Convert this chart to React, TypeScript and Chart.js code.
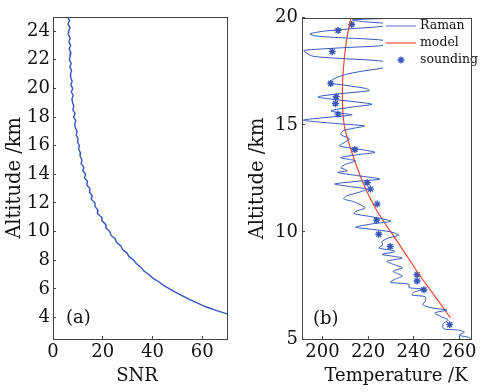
import React, { useEffect, useRef } from "react";
import { Chart, registerables } from "chart.js";
Chart.register(...registerables);

// ---------- Panel (a): SNR profile ----------
const snrAltitude = [
  25.0, 24.75, 24.5, 24.25, 24.0, 23.75, 23.5, 23.25, 23.0, 22.75, 22.5, 22.25, 22.0, 21.75, 21.5, 21.25,
  21.0, 20.75, 20.5, 20.25, 20.0, 19.75, 19.5, 19.25, 19.0, 18.75, 18.5, 18.25, 18.0, 17.75, 17.5, 17.25,
  17.0, 16.75, 16.5, 16.25, 16.0, 15.75, 15.5, 15.25, 15.0, 14.75, 14.5, 14.25, 14.0, 13.75, 13.5, 13.25,
  13.0, 12.75, 12.5, 12.25, 12.0, 11.75, 11.5, 11.25, 11.0, 10.75, 10.5, 10.25, 10.0, 9.75, 9.5, 9.25,
  9.0, 8.75, 8.5, 8.25, 8.0, 7.75, 7.5, 7.25, 7.0, 6.75, 6.5, 6.25, 6.0, 5.75, 5.5, 5.25,
  5.0, 4.75, 4.5, 4.25, 4.0,
];
const snrValues = [
  5.8, 6.7, 6.0, 6.8, 6.3, 6.2, 6.9, 6.4, 7.1, 6.5, 7.2, 6.9, 6.6, 7.3, 6.8, 7.5,
  7.0, 7.1, 7.7, 7.2, 7.9, 7.4, 8.1, 7.6, 7.9, 8.4, 8.0, 8.9, 8.3, 9.2, 8.7, 9.0,
  9.7, 9.3, 10.1, 9.9, 10.6, 10.3, 11.1, 10.9, 11.7, 11.3, 12.4, 12.0, 13.1, 12.7, 13.9, 13.6,
  14.9, 14.7, 15.8, 15.4, 16.9, 16.9, 18.1, 17.9, 19.6, 19.7, 21.2, 21.3, 22.9, 23.3, 25.0, 25.6,
  27.3, 28.0, 29.8, 30.6, 32.5, 33.6, 35.4, 36.6, 38.5, 40.2, 42.5, 44.5, 46.9, 49.4, 52.3, 55.0,
  58.1, 61.5, 65.6, 70.0, 75.0,
];
const snrTicks = [0, 20, 40, 60];
const altTicksA = [4, 6, 8, 10, 12, 14, 16, 18, 20, 22, 24];

// ---------- Panel (b): temperature profiles ----------
const ramanAltitude = [
  20.05, 19.98, 19.95, 19.9, 19.82, 19.72, 19.6, 19.5, 19.38, 19.25, 19.15, 19.06, 18.98, 18.85, 18.7, 18.62,
  18.54, 18.47, 18.35, 18.2, 18.1, 18.0, 17.85, 17.65, 17.5, 17.35, 17.15, 16.97, 16.85, 16.7, 16.6, 16.48,
  16.36, 16.3, 16.2, 16.08, 15.96, 15.82, 15.66, 15.55, 15.47, 15.36, 15.22, 15.08, 14.95, 14.85, 14.72, 14.55,
  14.35, 14.2, 14.02, 13.88, 13.72, 13.6, 13.47, 13.32, 13.15, 13.0, 12.86, 12.78, 12.62, 12.47, 12.36, 12.24,
  12.12, 12.0, 11.85, 11.7, 11.55, 11.4, 11.12, 10.98, 10.86, 10.7, 10.5, 10.38, 10.22, 10.12, 10.0, 9.85,
  9.72, 9.55, 9.4, 9.25, 9.15, 9.08, 8.95, 8.88, 8.78, 8.63, 8.45, 8.32, 8.17, 8.05, 7.94, 7.8,
  7.65, 7.56, 7.4, 7.33, 7.18, 7.05, 6.98, 6.79, 6.6, 6.45, 6.35, 6.22, 6.05, 5.88, 5.72, 5.48,
  5.42, 5.32, 5.18, 5.08, 4.95,
];
const ramanTemperature = [
  240, 232, 222, 213, 218, 229, 226, 214, 201, 194.5, 197, 210, 224, 232, 226, 212,
  199, 191.8, 193, 196, 208, 224, 232, 226, 217, 210, 205, 203, 210, 219, 220.5, 210,
  200, 198, 204, 214, 221.7, 212, 203.7, 208, 213, 203, 191.6, 204, 218.5, 214, 209, 208,
  211.8, 210, 207.4, 215, 223, 215, 208, 214.4, 210, 208.1, 211, 206.7, 216, 225.2, 215, 205.3,
  212, 219.5, 216, 211, 209.2, 214, 218.8, 215, 213.8, 222, 230, 222, 214.5, 222, 230, 233.5,
  229, 226, 226.5, 224.7, 230, 231.8, 226.1, 230, 235, 228.3, 232, 235.1, 230.9, 233, 235.1, 232,
  229.8, 237.9, 238, 244, 240, 239.4, 245, 245.2, 244, 248.2, 254.6, 249.3, 252, 255.2, 253, 253.1,
  259.4, 262.3, 260, 264, 266,
];
const modelAltitude = [20, 19, 18, 17, 16, 15, 14, 13, 12, 11, 10, 9, 8, 7, 6];
const modelTemperature = [212.5, 210.6, 209.5, 208.8, 208.8, 209.5, 212.0, 215.2, 219.0, 223.8, 230.0, 236.3, 242.5, 249.3, 256.1];
const soundingAltitude = [19.69, 19.41, 18.42, 16.93, 16.31, 16.0, 15.5, 13.85, 12.3, 12.0, 11.3, 10.55, 9.89, 9.32, 8.0, 7.71, 7.3, 5.67];
const soundingTemperature = [212.8, 206.8, 204.3, 203.6, 206.0, 205.7, 206.8, 214.2, 219.6, 221.0, 224.0, 223.7, 224.7, 229.7, 241.5, 241.5, 244.5, 255.8];
const tempTicks = [200, 220, 240, 260];
const altTicksB = [5, 10, 15, 20];
const legendLabels = ["Raman", "model", "sounding"];

// ---------- styles ----------
const FONT = "'DejaVu Serif', serif";
const BLUE = "#3557bd";
const RED = "#f04a2e";
const AXIS = "#444";

function drawStar(ctx: CanvasRenderingContext2D, x: number, y: number, r: number) {
  ctx.beginPath();
  for (let k = 0; k < 4; k++) {
    const ang = (k * Math.PI) / 4;
    ctx.moveTo(x - Math.cos(ang) * r, y - Math.sin(ang) * r);
    ctx.lineTo(x + Math.cos(ang) * r, y + Math.sin(ang) * r);
  }
  ctx.stroke();
}

const panelPlugin = {
  id: "panel",
  afterDatasetsDraw(chart: any, _args: any, o: any) {
    const { ctx, chartArea: a } = chart;
    ctx.save();
    if (o.legend) {
      ctx.fillStyle = "#fff";
      ctx.fillRect(o.legendLeft, o.legendTop, a.right - o.legendLeft, o.legendBottom - o.legendTop);
      const colors = [BLUE, RED, BLUE];
      legendLabels.forEach((lab, i) => {
        const y = o.legendY0 + i * o.legendDy;
        ctx.strokeStyle = colors[i];
        if (i < 2) {
          ctx.lineWidth = 1.2;
          ctx.globalAlpha = i === 0 ? 0.7 : 1;
          ctx.beginPath();
          ctx.moveTo(o.legendLineX0, y);
          ctx.lineTo(o.legendLineX1, y);
          ctx.stroke();
          ctx.globalAlpha = 1;
        } else {
          ctx.lineWidth = 1.4;
          drawStar(ctx, (o.legendLineX0 + o.legendLineX1) / 2, y, 3.5);
        }
        ctx.fillStyle = "#111";
        ctx.font = `12.5px ${FONT}`;
        ctx.textAlign = "left";
        ctx.textBaseline = "middle";
        ctx.fillText(lab, o.legendTextX, y);
      });
    }
    // frame
    ctx.strokeStyle = AXIS;
    ctx.lineWidth = 1;
    ctx.strokeRect(Math.round(a.left) + 0.5, Math.round(a.top) + 0.5, Math.round(a.right - a.left), Math.round(a.bottom - a.top));
    // panel label
    ctx.fillStyle = "#111";
    ctx.font = `18px ${FONT}`;
    ctx.textAlign = "left";
    ctx.textBaseline = "middle";
    ctx.fillText(o.label, o.labelX, o.labelY);
    // x title
    ctx.textAlign = "center";
    ctx.fillText(o.xTitle, o.xTitleX, o.xTitleY);
    ctx.restore();
  },
};

function axisX(min: number, max: number, ticks: number[]) {
  return {
    type: "linear",
    min,
    max,
    afterBuildTicks: (s: any) => {
      s.ticks = ticks.map((v) => ({ value: v }));
    },
    afterFit: (s: any) => {
      s.height = 53;
    },
    grid: { drawOnChartArea: false, drawTicks: true, tickLength: -3, color: AXIS },
    border: { display: false },
    ticks: { color: "#111", font: { family: FONT, size: 18 }, padding: 6, maxRotation: 0, autoSkip: false },
  };
}
function axisY(min: number, max: number, ticks: number[], width: number, pad: number, titlePad: number) {
  return {
    type: "linear",
    min,
    max,
    afterBuildTicks: (s: any) => {
      s.ticks = ticks.map((v) => ({ value: v }));
    },
    afterFit: (s: any) => {
      s.width = width;
    },
    grid: { drawOnChartArea: false, drawTicks: true, tickLength: -3, color: AXIS },
    border: { display: false },
    ticks: { color: "#111", font: { family: FONT, size: 18 }, padding: pad, autoSkip: false },
    title: { display: true, text: "Altitude /km", color: "#111", font: { family: FONT, size: 19.5 }, padding: { top: titlePad, bottom: 0 } },
  };
}

function buildA(): any {
  return {
    type: "scatter",
    data: {
      datasets: [
        {
          data: snrAltitude.map((alt, i) => ({ x: snrValues[i], y: alt })),
          showLine: true,
          borderColor: BLUE,
          borderWidth: 1.4,
          pointRadius: 0,
          tension: 0,
        },
      ],
    },
    options: {
      responsive: false,
      animation: false,
      layout: { padding: { left: 0, right: 14, top: 13, bottom: 0 } },
      plugins: {
        legend: { display: false },
        tooltip: { enabled: false },
        panel: { label: "(a)", labelX: 66, labelY: 318, xTitle: "SNR", xTitleX: 137, xTitleY: 376, legend: false },
      },
      scales: {
        x: axisX(0, 70, snrTicks),
        y: axisY(2.5, 25, altTicksA, 53, 6, 3),
      },
    },
    plugins: [panelPlugin],
  };
}

function buildB(): any {
  return {
    type: "scatter",
    data: {
      datasets: [
        {
          label: legendLabels[0],
          data: ramanAltitude.map((alt, i) => ({ x: ramanTemperature[i], y: alt })),
          showLine: true,
          borderColor: BLUE,
          borderWidth: 1,
          pointRadius: 0,
          tension: 0.25,
        },
        {
          label: legendLabels[1],
          data: modelAltitude.map((alt, i) => ({ x: modelTemperature[i], y: alt })),
          showLine: true,
          borderColor: RED,
          borderWidth: 1.2,
          pointRadius: 0,
          tension: 0.4,
        },
        {
          label: legendLabels[2],
          data: soundingAltitude.map((alt, i) => ({ x: soundingTemperature[i], y: alt })),
          showLine: false,
          pointStyle: "star",
          pointRadius: 3.5,
          borderWidth: 1.4,
          borderColor: BLUE,
          backgroundColor: BLUE,
        },
      ],
    },
    options: {
      responsive: false,
      animation: false,
      layout: { padding: { left: 0, right: 9, top: 13, bottom: 0 } },
      plugins: {
        legend: { display: false },
        tooltip: { enabled: false },
        panel: {
          label: "(b)",
          labelX: 72,
          labelY: 319,
          xTitle: "Temperature /K",
          xTitleX: 155,
          xTitleY: 376,
          legend: true,
          legendLeft: 142,
          legendTop: 17,
          legendBottom: 70,
          legendY0: 26,
          legendDy: 17,
          legendLineX0: 145,
          legendLineX1: 175,
          legendTextX: 179,
        },
      },
      scales: {
        x: axisX(191, 265, tempTicks),
        y: axisY(5, 20, altTicksB, 61, 7, 5),
      },
    },
    plugins: [panelPlugin],
  };
}

function Panel({ build, left, width }: { build: () => any; left: number; width: number }) {
  const ref = useRef<HTMLCanvasElement>(null);
  useEffect(() => {
    const chart = new Chart(ref.current as HTMLCanvasElement, build());
    return () => chart.destroy();
  }, []);
  return (
    <canvas
      ref={ref}
      width={width}
      height={392}
      style={{ position: "absolute", left, top: 0, width, height: 392 }}
    />
  );
}

export default function App() {
  return (
    <div style={{ position: "absolute", left: 0, top: 0, width: 483, height: 392, background: "#fff", overflow: "hidden" }}>
      <Panel build={buildA} left={0} width={241} />
      <Panel build={buildB} left={241} width={242} />
    </div>
  );
}
